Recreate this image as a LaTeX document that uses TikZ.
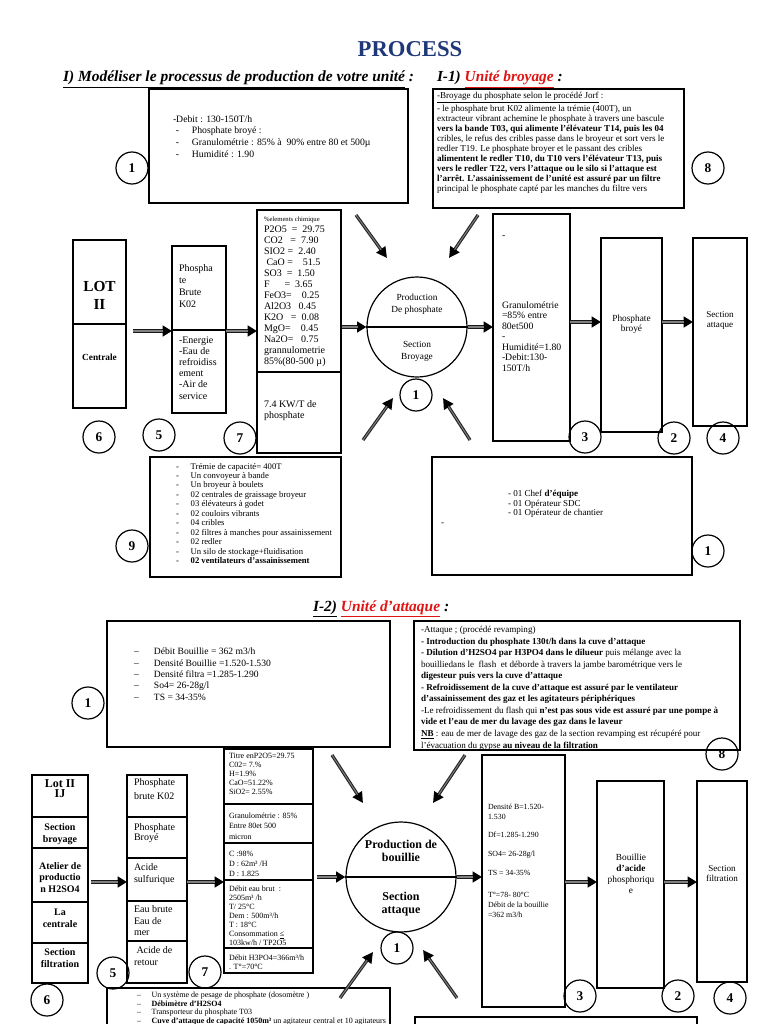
\documentclass[tikz,border=0pt]{standalone}
\usepackage{fontspec}
\setmainfont{Liberation Serif}
\usetikzlibrary{arrows.meta}
\definecolor{navyt}{RGB}{31,56,120}
\definecolor{redh}{RGB}{225,20,20}
\newcommand\fsz[2]{\fontsize{#1}{#2}\selectfont}
\newcommand\mybox[5]{\node[rect, minimum width={((#4)-(#2))*0.75pt}, minimum height={((#5)-(#3))*0.75pt}] (#1) at ({((#2)+(#4))/2},{((#3)+(#5))/2}) {};}
\newcommand\dsh[1]{\makebox[#1][l]{-}}
\newcommand\ndsh[1]{\makebox[#1][l]{--}}
\begin{document}
\begin{tikzpicture}[x=0.75pt,y=-0.75pt,
  rect/.style={draw, line width=0.8pt, inner sep=0pt, outer sep=0pt},
  num/.style={circle, draw, line width=0.9pt, minimum size=24pt, inner sep=0pt, font=\bfseries\fsz{10}{10}},
  txt/.style={anchor=base west, inner sep=0pt, outer sep=0pt, align=left},
  ctxt/.style={anchor=base, inner sep=0pt, outer sep=0pt, align=center},
  harrow/.style={line width=2.8pt, draw=black!90, -{Triangle[length=7pt,width=8pt,color=black]},
     postaction={draw=black!50, line width=0.8pt, -, shorten >=6.5pt}},
  darrow/.style={line width=2.4pt, draw=black!85, -{Triangle[length=8pt,width=8pt,color=black]},
     postaction={draw=black!50, line width=0.7pt, -, shorten >=7.5pt}},
  div/.style={line width=0.8pt}]
\useasboundingbox (0,0) rectangle (768,1024);
\clip (0,0) rectangle (768,1024);

% NOTE: multi-line text nodes are placed by the baseline of their LAST line

% ---------- titles ----------
\node[anchor=base, inner sep=0pt, font=\bfseries\fsz{17}{17}, text=navyt] (title) at (410,57) {PROCESS};
\node[txt, font=\bfseries\itshape\fsz{11.6}{11.6}] (h1) at (63,82) {\underline{I) Modéliser le processus de production de votre unité} :};
\node[txt, font=\bfseries\itshape\fsz{11.5}{11.5}] (h11) at (437,82) {I-1) \textcolor{redh}{\underline{Unité broyage}} :};

% ---------- section 1 ----------
\mybox{boxA}{149}{89}{408}{203}
\node[txt, font=\fsz{7.3}{8.8}] (tA) at (173,157.2) {-Debit : 130-150T/h\\
\hspace*{2.2pt}\dsh{12pt}Phosphate broyé :\\
\hspace*{2.2pt}\dsh{12pt}Granulométrie : 85\% à~ 90\% entre 80 et 500µ\\
\hspace*{2.2pt}\dsh{12pt}Humidité : 1.90};
\node[num] (n1a) at (132,168) {1};

\mybox{boxB}{433}{89}{684}{208}
\node[txt, font=\fsz{6.8}{7.5}] (tB) at (437,191) {\underline{-Broyage du phosphate selon le procédé Jorf} :\\
- le phosphate brut K02 alimente la trémie (400T), un\\
extracteur vibrant achemine le phosphate à travers une bascule\\
{\bfseries vers la bande T03, qui alimente l'élévateur T14, puis les 04}\\
cribles, le refus des cribles passe dans le broyeur et sort vers le\\
redler T19. Le phosphate broyer et le passant des cribles\\
{\bfseries alimentent le redler T10, du T10 vers l'élévateur T13, puis}\\
{\bfseries vers le redler T22, vers l'attaque ou le silo si l'attaque est}\\
{\bfseries l'arrêt. L'assainissement de l'unité est assuré par un filtre}\\
principal le phosphate capté par les manches du filtre vers};
\node[num] (n8a) at (708,168) {8};

% LOT II
\mybox{lot}{73}{240}{126}{408}
\draw[div] (lot.west |- 0,324) -- (lot.east |- 0,324);
\node[ctxt, font=\bfseries\fsz{11.5}{14}] (tlot) at (99.5,309.7) {LOT\\II};
\node[ctxt, font=\bfseries\fsz{7}{8}] (tcen) at (99.5,360) {Centrale};

% box 5
\mybox{bfive}{172}{246}{226}{413}
\draw[div] (bfive.west |- 0,330) -- (bfive.east |- 0,330);
\node[txt, font=\fsz{7.5}{9}] (t5a) at (179,307) {Phospha\\te\\Brute\\K02};
\node[txt, font=\fsz{7.5}{8.4}] (t5b) at (179,399) {-Energie\\-Eau de\\refroidiss\\ement\\-Air de\\service};

% chem box
\mybox{chem}{257}{210}{341}{453}
\draw[div] (chem.west |- 0,372) -- (chem.east |- 0,372);
\node[txt, font=\fsz{5}{5}] (tch0) at (264,221) {\%elements chimique};
\node[txt, font=\fsz{7.5}{8.25}] (tch1) at (264,364) {P2O5~ =~ 29.75\\
CO2~~ =~ 7.90\\
SIO2 =~ 2.40\\
~CaO =~~~ 51.5\\
SO3~ =~ 1.50\\
F~~~~~ =~ 3.65\\
FeO3=~~~ 0.25\\
Al2O3~~~0.45\\
K2O~~ =~ 0.08\\
MgO=~~~ 0.45\\
Na2O=~~ 0.75\\
grannulometrie\\
85\%(80-500 µ)};
\node[txt, font=\fsz{7.5}{8.25}] (tch2) at (264,418) {7.4 KW/T de\\phosphate};

% central circle
\node[circle, draw, line width=0.9pt, minimum size=75pt, inner sep=0pt] (circA) at (417,327) {};
\draw[div] (circA.west) -- (circA.east);
\node[ctxt, font=\fsz{7}{9}] (tcA1) at (417,312) {Production\\De phosphate};
\node[ctxt, font=\fsz{7}{9}] (tcA2) at (417,359) {Section\\Broyage};
\node[num] (n1b) at (416,395) {1};

% right boxes
\mybox{bthree}{493}{214}{570}{441}
\node[txt, font=\fsz{7.3}{7.9}] (t3a) at (502,238) {-};
\node[txt, font=\fsz{7.3}{7.9}] (t3b) at (502,371.2) {Granulométrie\\=85\% entre\\80et500\\-\\Humidité=1.80\\-Debit:130-\\150T/h};
\mybox{pb}{601}{238}{662}{432}
\node[ctxt, font=\fsz{7}{7.5}] (tpb) at (631.5,331) {Phosphate\\broyé};
\mybox{sa}{693}{238}{747}{426}
\node[ctxt, font=\fsz{6.8}{7}] (tsa) at (720,327.3) {Section\\attaque};

\node[num] (n3a) at (585,437) {3};
\node[num] (n2a) at (674,438) {2};
\node[num] (n4a) at (723,438) {4};
\node[num] (n6a) at (99,437) {6};
\node[num] (n5a) at (159,435) {5};
\node[num] (n7a) at (240,438) {7};

% arrows section 1
\coordinate (rowA) at (0,331);
\coordinate (rowB) at (0,322);
\draw[harrow, shorten <=5pt] (lot.east |- rowA) -- (bfive.west |- rowA);
\draw[harrow] (bfive.east |- rowA) -- (chem.west |- rowA);
\draw[harrow, shorten <=1pt] (chem.east |- circA.west) -- (circA.west);
\draw[harrow] (circA.east) -- (bthree.west |- circA.east);
\draw[harrow] (bthree.east |- rowB) -- (pb.west |- rowB);
\draw[harrow] (pb.east |- rowB) -- (sa.west |- rowB);
\coordinate (dA1s) at (356,215); \coordinate (dA1e) at (387,258);
\coordinate (dA2s) at (478,215); \coordinate (dA2e) at (449,258);
\coordinate (dA3s) at (363,440); \coordinate (dA3e) at (393,398);
\coordinate (dA4s) at (470,440); \coordinate (dA4e) at (443,398);
\draw[darrow] (dA1s) -- (dA1e);
\draw[darrow] (dA2s) -- (dA2e);
\draw[darrow] (dA3s) -- (dA3e);
\draw[darrow] (dA4s) -- (dA4e);

% box 9
\mybox{bnine}{150}{457}{341}{577}
\node[txt, font=\fsz{6.5}{7.1}] (t9) at (176,563.7) {\dsh{11pt}Trémie de capacité= 400T\\
\dsh{11pt}Un convoyeur à bande\\
\dsh{11pt}Un broyeur à boulets\\
\dsh{11pt}02 centrales de graissage broyeur\\
\dsh{11pt}03 élévateurs à godet\\
\dsh{11pt}02 couloirs vibrants\\
\dsh{11pt}04 cribles\\
\dsh{11pt}02 filtres à manches pour assainissement\\
\dsh{11pt}02 redler\\
\dsh{11pt}Un silo de stockage+fluidisation\\
\dsh{11pt}{\bfseries 02 ventilateurs d'assainissement}};
\node[num] (n9a) at (132,546) {9};

\mybox{bten}{432}{457}{692}{575}
\node[txt, font=\fsz{6.8}{7.1}] (t10) at (508,515.9) {- 01 Chef {\bfseries d'équipe}\\- 01 Opérateur SDC\\- 01 Opérateur de chantier};
\node[txt, font=\fsz{6.8}{7.1}] (t10b) at (441,525) {-};
\node[num] (n1c) at (708,551) {1};

% ---------- section 2 ----------
\node[txt, font=\bfseries\itshape\fsz{11.6}{11.6}] (h12) at (313,611) {\underline{I-2)} \textcolor{redh}{\underline{Unité d'attaque}} :};

\mybox{boxC}{107}{621}{390}{747}
\node[txt, font=\fsz{7.2}{8.5}] (tC) at (134,700.3) {\ndsh{15pt}Débit Bouillie = 362 m3/h\\
\ndsh{15pt}Densité Bouillie =1.520-1.530\\
\ndsh{15pt}Densité filtra =1.285-1.290\\
\ndsh{15pt}So4= 26-28g/l\\
\ndsh{15pt}TS = 34-35\%};
\node[num] (n1d) at (88,703) {1};

\mybox{boxD}{414}{621}{740}{750}
\node[txt, font=\fsz{6.8}{8.66}] (tD) at (421,748) {-Attaque ; (procédé revamping)\\
{\bfseries - Introduction du phosphate 130t/h dans la cuve d'attaque}\\
{\bfseries - Dilution d'H2SO4 par H3PO4 dans le dilueur} puis mélange avec la\\
bouilliedans le~ flash~ et déborde à travers la jambe barométrique vers le\\
{\bfseries digesteur puis vers la cuve d'attaque}\\
{\bfseries - Refroidissement de la cuve d'attaque est assuré par le ventilateur}\\
{\bfseries d'assainissement des gaz et les agitateurs périphériques}\\
-Le refroidissement du flash qui {\bfseries n'est pas sous vide est assuré par une pompe à}\\
{\bfseries vide et l'eau de mer du lavage des gaz dans le laveur}\\
{\bfseries\underline{NB}} : eau de mer de lavage des gaz de la section revamping est récupéré pour\\
l'évacuation du gypse {\bfseries au niveau de la filtration}};
\node[num] (n8b) at (722,754) {8};

% Lot II IJ column
\mybox{lotb}{32}{775}{88}{983}
\draw[div] (lotb.west |- 0,817) -- (lotb.east |- 0,817);
\draw[div] (lotb.west |- 0,848) -- (lotb.east |- 0,848);
\draw[div] (lotb.west |- 0,902) -- (lotb.east |- 0,902);
\draw[div] (lotb.west |- 0,943) -- (lotb.east |- 0,943);
\node[ctxt, font=\bfseries\fsz{9}{8}] (tl1) at (60,797.7) {Lot II\\IJ};
\node[ctxt, font=\bfseries\fsz{7.5}{9}] (tl2) at (60,842) {Section\\broyage};
\node[ctxt, font=\bfseries\fsz{7.5}{8.3}] (tl3) at (60,892) {Atelier de\\productio\\n H2SO4};
\node[ctxt, font=\bfseries\fsz{7.5}{8.3}] (tl4) at (60,927) {La\\centrale};
\node[ctxt, font=\bfseries\fsz{7.5}{8.3}] (tl5) at (60,967) {Section\\filtration};

% box 5 column
\mybox{bfiveb}{127}{775}{187}{983}
\draw[div] (bfiveb.west |- 0,817) -- (bfiveb.east |- 0,817);
\draw[div] (bfiveb.west |- 0,858) -- (bfiveb.east |- 0,858);
\draw[div] (bfiveb.west |- 0,901) -- (bfiveb.east |- 0,901);
\draw[div] (bfiveb.west |- 0,941) -- (bfiveb.east |- 0,941);
\node[txt, font=\fsz{7.5}{10}] (tf1) at (134,799.3) {Phosphate\\brute K02};
\node[txt, font=\fsz{7.5}{8}] (tf2) at (134,840.7) {Phosphate\\Broyé};
\node[txt, font=\fsz{7.5}{9}] (tf3) at (134,882) {Acide\\sulfurique};
\node[txt, font=\fsz{7.5}{8.6}] (tf4) at (134,935.9) {Eau brute\\Eau de\\mer};
\node[txt, font=\fsz{7.5}{9}] (tf5) at (134,965) {~Acide de\\retour};

% chem box 2
\mybox{chemb}{224}{749}{313}{973}
\draw[div] (chemb.west |- 0,804) -- (chemb.east |- 0,804);
\draw[div] (chemb.west |- 0,843) -- (chemb.east |- 0,843);
\draw[div] (chemb.west |- 0,880) -- (chemb.east |- 0,880);
\draw[div] (chemb.west |- 0,948) -- (chemb.east |- 0,948);
\node[txt, font=\fsz{6}{6.75}] (tg1) at (229,794) {Titre enP2O5=29.75\\C02= 7.\%\\H=1.9\%\\CaO=51.22\%\\SiO2= 2.55\%};
\node[txt, font=\fsz{6}{8.2}] (tg2) at (229,839.9) {Granulométrie : 85\%\\Entre 80et 500\\micron};
\node[txt, font=\fsz{6}{7.5}] (tg3) at (229,876) {C :98\%\\D : 62m³ /H\\D : 1.825};
\node[txt, font=\fsz{6}{6.75}] (tg4) at (229,945) {Débit eau brut~ :\\2505m³ /h\\T/ 25°C\\Dem : 500m³/h\\T : 18°C\\Consommation \underline{≤}\\103kw/h / TP2O5};
\node[txt, font=\fsz{6}{6.75}] (tg5) at (229,969) {Débit H3PO4=366m³/h\\. T°=70°C};

\node[num] (n5b) at (113,973) {5};
\node[num] (n7b) at (205,972) {7};
\node[num] (n6b) at (47,1000) {6};

% central circle 2
\node[circle, draw, line width=0.9pt, minimum size=82.5pt, inner sep=0pt] (circB) at (401,877) {};
\draw[div] (circB.west) -- (circB.east);
\node[ctxt, font=\bfseries\fsz{9}{9.75}] (tcB1) at (401,861.5) {Production de\\bouillie};
\node[ctxt, font=\bfseries\fsz{9}{9.75}] (tcB2) at (401,913) {Section\\attaque};
\node[num] (n1e) at (397,948) {1};

\mybox{bthreeb}{482}{755}{565}{1007}
\node[txt, font=\fsz{5.9}{7.5}] (th1) at (488,819) {Densité B=1.520-\\1.530};
\node[txt, font=\fsz{5.9}{7.5}] (th2) at (488,837) {Df=1.285-1.290};
\node[txt, font=\fsz{5.9}{7.5}] (th3) at (488,856) {SO4= 26-28g/l};
\node[txt, font=\fsz{5.9}{7.5}] (th4) at (488,875) {TS = 34-35\%};
\node[txt, font=\fsz{5.9}{7.8}] (th5) at (488,917.8) {T°=78- 80°C\\Débit de la bouillie\\=362 m3/h};
\node[num] (n3b) at (580,996) {3};

\mybox{bbou}{597}{781}{664}{988}
\node[ctxt, font=\fsz{7}{8.25}] (tbou) at (631,893) {Bouillie\\{\bfseries d'acide}\\phosphoriqu\\e};
\node[num] (n2b) at (678,996) {2};
\mybox{bfil}{697}{781}{747}{982}
\node[ctxt, font=\fsz{6.8}{7.8}] (tfil) at (722,881.4) {Section\\filtration};
\node[num] (n4b) at (730,998) {4};

% bottom boxes
\mybox{bbl}{107}{988}{390}{1045}
\node[txt, font=\fsz{6}{6.5}] (tbl) at (137,1023.5) {\ndsh{11pt}Un système de pesage de phosphate (dosomètre )\\
\ndsh{11pt}{\bfseries Débimètre d'H2SO4}\\
\ndsh{11pt}Transporteur du phosphate T03\\
\ndsh{11pt}{\bfseries Cuve d'attaque de capacité 1050m³} un agitateur central et 10 agitateurs};
\mybox{bbr}{415}{1017}{697}{1045}

% arrows section 2
\coordinate (rowC) at (0,882);
\draw[harrow, shorten <=2pt] (lotb.east |- rowC) -- (bfiveb.west |- rowC);
\draw[harrow] (bfiveb.east |- rowC) -- (chemb.west |- rowC);
\draw[harrow, shorten <=3pt] (chemb.east |- circB.west) -- (circB.west);
\draw[harrow] (circB.east) -- (bthreeb.west |- circB.east);
\draw[harrow] (bthreeb.east |- rowC) -- (bbou.west |- rowC);
\draw[harrow] (bbou.east |- rowC) -- (bfil.west |- rowC);
\coordinate (dB1s) at (332,755); \coordinate (dB1e) at (363,803);
\coordinate (dB2s) at (465,755); \coordinate (dB2e) at (433,803);
\coordinate (dB3s) at (340,998); \coordinate (dB3e) at (373,952);
\coordinate (dB4s) at (457,998); \coordinate (dB4e) at (423,950);
\draw[darrow] (dB1s) -- (dB1e);
\draw[darrow] (dB2s) -- (dB2e);
\draw[darrow] (dB3s) -- (dB3e);
\draw[darrow] (dB4s) -- (dB4e);
\end{tikzpicture}
\end{document}
